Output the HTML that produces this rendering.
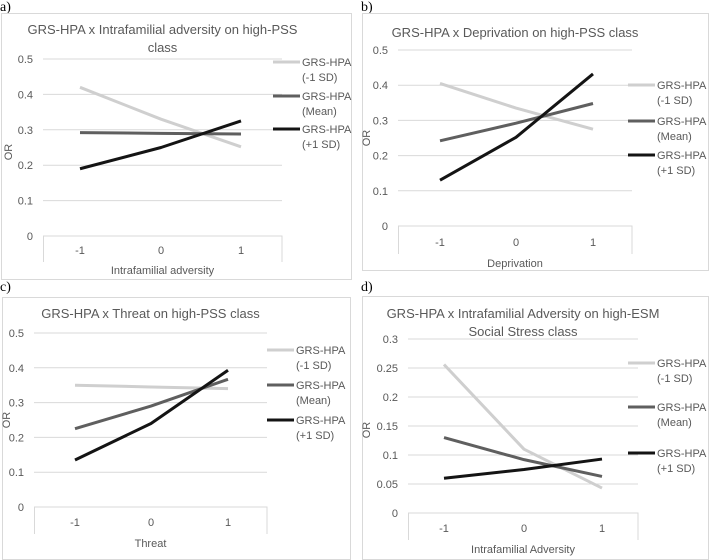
<!DOCTYPE html>
<html><head><meta charset="utf-8"><style>
html,body{margin:0;padding:0;background:#fff;}
svg{display:block;font-family:"Liberation Sans",sans-serif;}
</style></head><body>
<svg id="c" width="709" height="560"></svg>
<script>
const xCats=["-1","0","1"];
const seriesNames=["GRS-HPA (-1 SD)","GRS-HPA (Mean)","GRS-HPA (+1 SD)"];
const seriesColors=["#cfcfcf","#5f5f5f","#141414"];
const aLow=[0.42,0.33,0.252];
const aMean=[0.292,0.29,0.288];
const aHigh=[0.19,0.25,0.325];
const bLow=[0.405,0.335,0.275];
const bMean=[0.242,0.292,0.348];
const bHigh=[0.13,0.252,0.432];
const cLow=[0.35,0.345,0.34];
const cMean=[0.225,0.29,0.367];
const cHigh=[0.135,0.24,0.393];
const dLow=[0.256,0.11,0.043];
const dMean=[0.13,0.092,0.063];
const dHigh=[0.06,0.075,0.093];
const ticksPSS=["0","0.1","0.2","0.3","0.4","0.5"];
const ticksESM=["0","0.05","0.1","0.15","0.2","0.25","0.3"];

const panels=[
 {id:"a",label:"a)",lx:0,ly:11,frame:[1,13,351,279],title:["GRS-HPA x Intrafamilial adversity on high-PSS","class"],ty:[34,52],
  gx0:43,gx1:282,yTop:59,yBot:236,xs:[80,161,241],ticks:ticksPSS,max:0.5,data:[aLow,aMean,aHigh],xt:"Intrafamilial adversity",
  tickY:254,axY:274,legX:273,legY:[62,96,129],orX:12,orY:152},
 {id:"b",label:"b)",lx:361,ly:11,frame:[362,13,708,270],title:["GRS-HPA x Deprivation on high-PSS class"],ty:[37],
  gx0:398,gx1:632,yTop:50,yBot:226,xs:[440,516,593],ticks:ticksPSS,max:0.5,data:[bLow,bMean,bHigh],xt:"Deprivation",
  tickY:246,axY:267,legX:628,legY:[85,121,155],orX:370,orY:138},
 {id:"c",label:"c)",lx:0,ly:291,frame:[2,297,350,559],title:["GRS-HPA x Threat on high-PSS class"],ty:[318],
  gx0:34,gx1:267,yTop:333,yBot:507,xs:[75,151,228],ticks:ticksPSS,max:0.5,data:[cLow,cMean,cHigh],xt:"Threat",
  tickY:526,axY:547,legX:267,legY:[350,385,420],orX:10,orY:420},
 {id:"d",label:"d)",lx:361,ly:291,frame:[362,296,708,559],title:["GRS-HPA x Intrafamilial Adversity on high-ESM","Social Stress class"],ty:[318,336],
  gx0:408,gx1:638,yTop:339,yBot:513,xs:[444,524,602],ticks:ticksESM,max:0.3,data:[dLow,dMean,dHigh],xt:"Intrafamilial Adversity",
  tickY:532,axY:553,legX:628,legY:[363,407,453],orX:370,orY:430}
];
const svg=document.getElementById('c');
const NS="http://www.w3.org/2000/svg";
function mk(tag,attrs,parent,text){const e=document.createElementNS(NS,tag);for(const k in attrs)e.setAttribute(k,attrs[k]);if(text!==undefined)e.textContent=text;parent.appendChild(e);return e;}
panels.forEach(p=>{
 const g=mk('g',{},svg);
 
 
 const lab=mk('text',{x:p.lx,y:p.ly,'font-family':'Liberation Serif, serif','font-size':14,fill:'#000'},g,p.label);
 
 
 const f=p.frame;
 const fr=mk('rect',{x:f[0]+0.5,y:f[1]+0.5,width:f[2]-f[0],height:f[3]-f[1],fill:'#fff',stroke:'#d9d9d9'},g);
 
 
 p.title.forEach((t,i)=>{
  const te=mk('text',{x:(p.gx0+p.gx1)/2,y:p.ty[i],'text-anchor':'middle','font-size':13,fill:'#595959'},g,t);
  
  
 });
 const yS=v=>p.yBot-(v/p.max)*(p.yBot-p.yTop);
 p.ticks.forEach(t=>{
  const v=parseFloat(t),y=yS(v);
  if(v>0){const gl=mk('line',{x1:p.gx0,x2:p.gx1,y1:y,y2:y,stroke:'#d9d9d9'},g);
   
   }
  const tl=mk('text',{x:p.gx0-10,y:y+4,'text-anchor':'end','font-size':11,fill:'#595959'},g,t);
  
  
 });
 const axis=mk('path',{d:`M${p.gx0+0.5},${p.tickY+8}V${p.yBot}H${p.gx1}V${p.tickY+8}`,fill:'none',stroke:'#d9d9d9'},g);
 
 
 xCats.forEach((c,i)=>{
  const tl=mk('text',{x:p.xs[i],y:p.tickY,'text-anchor':'middle','font-size':11,fill:'#595959'},g,c);
  
  
 });
 const xt=mk('text',{x:(p.gx0+p.gx1)/2,y:p.axY,'text-anchor':'middle','font-size':11,fill:'#595959'},g,p.xt);
 
 
 const yt=mk('text',{x:p.orX,y:p.orY,'text-anchor':'middle','font-size':11,fill:'#595959',transform:`rotate(-90 ${p.orX} ${p.orY})`},g,'OR');
 
 
 p.data.forEach((vals,si)=>{
  const pts=vals.map((v,i)=>p.xs[i]+','+yS(v)).join(' ');
  const pl=mk('polyline',{points:pts,fill:'none',stroke:seriesColors[si],'stroke-width':3,'stroke-linejoin':'round'},g);
  
  
  const ly=p.legY[si];
  const lg=mk('g',{},g);
  
  
  mk('line',{x1:p.legX,x2:p.legX+27,y1:ly,y2:ly,stroke:seriesColors[si],'stroke-width':3},lg);
  const parts=seriesNames[si].split(' (');
  mk('text',{x:p.legX+29,y:ly+4,'font-size':11,fill:'#595959'},lg,parts[0]);
  mk('text',{x:p.legX+29,y:ly+19,'font-size':11,fill:'#595959'},lg,'('+parts[1]);
 });
});
</script>
</body></html>
